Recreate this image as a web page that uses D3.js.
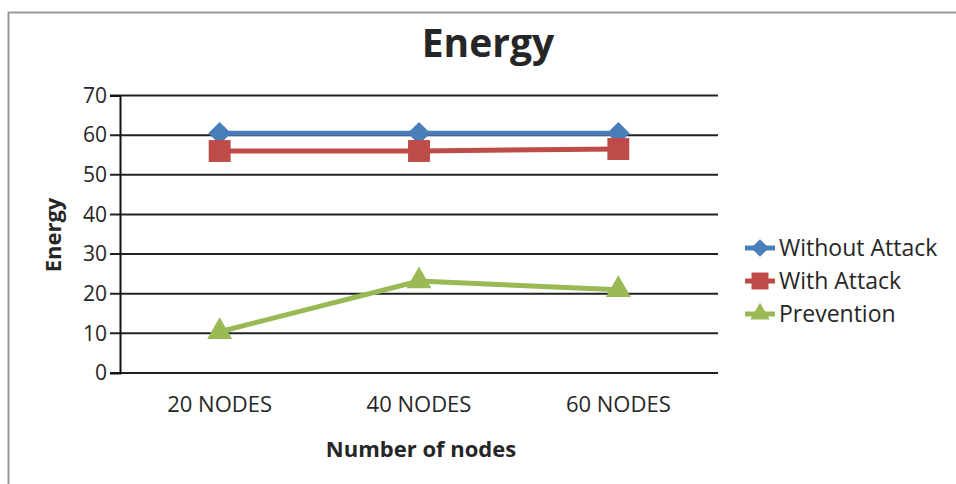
<!DOCTYPE html>
<html>
<head>
<meta charset="utf-8">
<script src="https://cdn.jsdelivr.net/npm/d3@7"></script>
<style>
  body { margin: 0; background: #fff; }
  text { font-family: "Open Sans", "Noto Sans", sans-serif; fill: #262626; }
</style>
</head>
<body>
<script>
var categories = ['20 NODES', '40 NODES', '60 NODES'];
var seriesNames = ['Without Attack', 'With Attack', 'Prevention'];
var withoutAttack = [60.5, 60.5, 60.5];
var withAttack = [56, 56, 56.5];
var prevention = [10.4, 23.2, 21];
var yTicks = [0, 10, 20, 30, 40, 50, 60, 70];

var width = 956;
var height = 484;
var plotLeft = 120;
var plotRight = 718;
var plotTop = 95.5;
var plotBottom = 373;

var colors = ['#4a7ebb', '#be4b48', '#98b954'];
var symbols = [d3.symbolDiamond, d3.symbolSquare, d3.symbolTriangle];
var symbolSizes = [200, 480, 270];
// the diamond in the original is wide and flat
var symbolScales = ['scale(1.5,0.85)', '', ''];

var svg = d3.select('body')
  .append('svg')
  .attr('width', width)
  .attr('height', height);

// frame
svg.append('path')
  .attr('d', 'M8.5,' + height + 'V12.5H' + width)
  .attr('fill', 'none')
  .attr('stroke', '#999')
  .attr('stroke-width', 2);

var x = d3.scaleBand()
  .domain(categories)
  .range([plotLeft, plotRight]);

var y = d3.scaleLinear()
  .domain([0, 70])
  .range([plotBottom, plotTop]);

// grid lines
svg.append('g')
  .selectAll('line')
  .data(yTicks)
  .enter()
  .append('line')
  .attr('x1', plotLeft - 10)
  .attr('x2', plotRight)
  .attr('y1', function(d) { return y(d); })
  .attr('y2', function(d) { return y(d); })
  .attr('stroke', '#222')
  .attr('stroke-width', 2);

// y axis
var yAxis = svg.append('g')
  .attr('transform', 'translate(' + plotLeft + ',0)')
  .call(d3.axisLeft(y).tickValues(yTicks).tickSize(10).tickPadding(3));
yAxis.select('.domain').attr('stroke', '#111').attr('stroke-width', 2);
yAxis.selectAll('.tick line').attr('stroke', 'none');
yAxis.selectAll('text')
  .style('font-size', '21px')
  .style('font-family', '"Open Sans", sans-serif')
  .attr('fill', '#333');

// x axis labels
svg.append('g')
  .selectAll('text')
  .data(categories)
  .enter()
  .append('text')
  .attr('x', function(d) { return x(d) + x.bandwidth() / 2; })
  .attr('y', 412)
  .attr('text-anchor', 'middle')
  .style('font-size', '22px')
  .text(function(d) { return d; });

var allSeries = [withoutAttack, withAttack, prevention];

var line = d3.line()
  .x(function(d, i) { return x(categories[i]) + x.bandwidth() / 2; })
  .y(function(d) { return y(d); });

allSeries.forEach(function(values, s) {
  svg.append('path')
    .datum(values)
    .attr('d', line)
    .attr('fill', 'none')
    .attr('stroke', colors[s])
    .attr('stroke-width', 5);

  svg.append('g')
    .selectAll('path')
    .data(values)
    .enter()
    .append('path')
    .attr('d', d3.symbol().type(symbols[s]).size(symbolSizes[s]))
    .attr('transform', function(d, i) {
      return 'translate(' + (x(categories[i]) + x.bandwidth() / 2) + ',' + y(d) + ')' + symbolScales[s];
    })
    .attr('fill', colors[s]);
});

// titles
svg.append('text')
  .attr('x', 488)
  .attr('y', 57)
  .attr('text-anchor', 'middle')
  .style('font-size', '39px')
  .style('font-weight', 'bold')
  .attr('fill', '#111')
  .text('Energy');

svg.append('text')
  .attr('transform', 'translate(61,235) rotate(-90)')
  .attr('text-anchor', 'middle')
  .style('font-size', '22px')
  .style('font-weight', 'bold')
  .attr('fill', '#111')
  .text('Energy');

svg.append('text')
  .attr('x', 421)
  .attr('y', 457)
  .attr('text-anchor', 'middle')
  .style('font-size', '22px')
  .style('font-weight', 'bold')
  .attr('fill', '#111')
  .text('Number of nodes');

// legend
var legend = svg.append('g')
  .selectAll('g')
  .data(seriesNames)
  .enter()
  .append('g')
  .attr('transform', function(d, i) { return 'translate(745,' + (248 + i * 33) + ')'; });

legend.append('line')
  .attr('x1', 0)
  .attr('x2', 30)
  .attr('stroke', function(d, i) { return colors[i]; })
  .attr('stroke-width', 5);

legend.append('path')
  .attr('d', function(d, i) { return d3.symbol().type(symbols[i]).size(symbolSizes[i] * 0.6)(); })
  .attr('transform', function(d, i) { return 'translate(15,0)' + symbolScales[i]; })
  .attr('fill', function(d, i) { return colors[i]; });

legend.append('text')
  .attr('x', 34)
  .attr('y', 8)
  .style('font-size', '23px')
  .text(function(d) { return d; });
</script>
</body>
</html>
